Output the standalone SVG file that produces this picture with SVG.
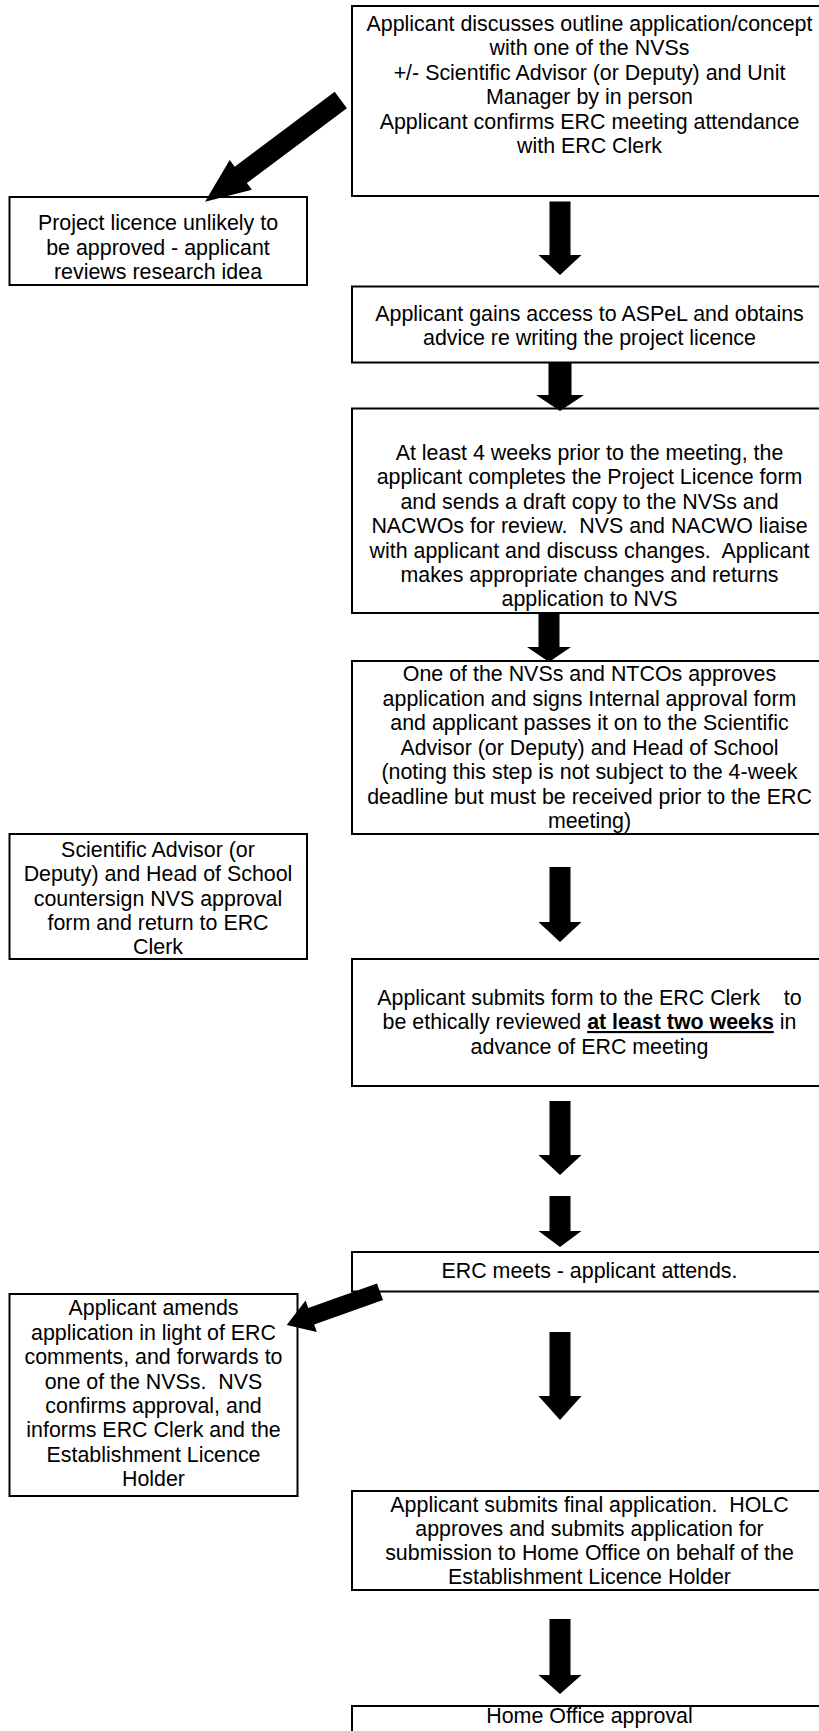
<svg xmlns="http://www.w3.org/2000/svg" width="819" height="1731" viewBox="0 0 819 1731">
<style>
.box{fill:#fff;stroke:#000;stroke-width:2}
.t{font-family:"Liberation Sans",Arial,sans-serif;font-size:21.4px;fill:#000;text-anchor:middle;white-space:pre}
.arr{fill:#000;stroke:none}
.b{font-weight:bold;text-decoration:underline}
</style>
<rect width="819" height="1731" fill="#fff"/>
<g id="n1">
<rect class="box" x="352" y="6" width="480" height="190"/>
<text class="t" xml:space="preserve"><tspan x="589.5" y="30.5">Applicant discusses outline application/concept</tspan><tspan x="589.5" y="55">with one of the NVSs</tspan><tspan x="589.5" y="79.5">+/- Scientific Advisor (or Deputy) and Unit</tspan><tspan x="589.5" y="104">Manager by in person</tspan><tspan x="589.5" y="128.5">Applicant confirms ERC meeting attendance</tspan><tspan x="589.5" y="153">with ERC Clerk</tspan></text>
</g>
<g id="n2">
<rect class="box" x="9.5" y="197" width="297.5" height="88"/>
<text class="t" xml:space="preserve"><tspan x="158" y="230">Project licence unlikely to</tspan><tspan x="158" y="254.5">be approved - applicant</tspan><tspan x="158" y="279">reviews research idea</tspan></text>
</g>
<g id="n3">
<rect class="box" x="352" y="286.5" width="480" height="76"/>
<text class="t" xml:space="preserve"><tspan x="589.5" y="320.5">Applicant gains access to ASPeL and obtains</tspan><tspan x="589.5" y="345">advice re writing the project licence</tspan></text>
</g>
<g id="n4">
<rect class="box" x="352" y="408.5" width="480" height="204.5"/>
<text class="t" xml:space="preserve"><tspan x="589.5" y="460">At least 4 weeks prior to the meeting, the</tspan><tspan x="589.5" y="484.4">applicant completes the Project Licence form</tspan><tspan x="589.5" y="508.8">and sends a draft copy to the NVSs and</tspan><tspan x="589.5" y="533.2">NACWOs for review.  NVS and NACWO liaise</tspan><tspan x="589.5" y="557.6">with applicant and discuss changes.  Applicant</tspan><tspan x="589.5" y="582">makes appropriate changes and returns</tspan><tspan x="589.5" y="606.4">application to NVS</tspan></text>
</g>
<g id="n5">
<rect class="box" x="352" y="661" width="480" height="173"/>
<text class="t" xml:space="preserve"><tspan x="589.5" y="681">One of the NVSs and NTCOs approves</tspan><tspan x="589.5" y="705.5">application and signs Internal approval form</tspan><tspan x="589.5" y="730">and applicant passes it on to the Scientific</tspan><tspan x="589.5" y="754.5">Advisor (or Deputy) and Head of School</tspan><tspan x="589.5" y="779">(noting this step is not subject to the 4-week</tspan><tspan x="589.5" y="803.5">deadline but must be received prior to the ERC</tspan><tspan x="589.5" y="828">meeting)</tspan></text>
</g>
<g id="n6">
<rect class="box" x="9.5" y="834" width="297.5" height="125"/>
<text class="t" xml:space="preserve"><tspan x="158" y="856.5">Scientific Advisor (or</tspan><tspan x="158" y="881">Deputy) and Head of School</tspan><tspan x="158" y="905.5">countersign NVS approval</tspan><tspan x="158" y="930">form and return to ERC</tspan><tspan x="158" y="954">Clerk</tspan></text>
</g>
<g id="n7">
<rect class="box" x="352" y="959" width="480" height="127"/>
<text class="t" xml:space="preserve"><tspan x="589.5" y="1004.5">Applicant submits form to the ERC Clerk    to</tspan><tspan x="589.5" y="1029">be ethically reviewed <tspan class="b">at least two weeks</tspan> in</tspan><tspan x="589.5" y="1053.5">advance of ERC meeting</tspan></text>
</g>
<g id="n8">
<rect class="box" x="352" y="1252" width="480" height="39.5"/>
<text class="t" xml:space="preserve"><tspan x="589.5" y="1278">ERC meets - applicant attends.</tspan></text>
</g>
<g id="n9">
<rect class="box" x="9.5" y="1294" width="288" height="202"/>
<text class="t" xml:space="preserve"><tspan x="153.5" y="1315">Applicant amends</tspan><tspan x="153.5" y="1339.5">application in light of ERC</tspan><tspan x="153.5" y="1364">comments, and forwards to</tspan><tspan x="153.5" y="1388.5">one of the NVSs.  NVS</tspan><tspan x="153.5" y="1413">confirms approval, and</tspan><tspan x="153.5" y="1437">informs ERC Clerk and the</tspan><tspan x="153.5" y="1461.5">Establishment Licence</tspan><tspan x="153.5" y="1486">Holder</tspan></text>
</g>
<g id="n10">
<rect class="box" x="352" y="1491" width="480" height="99"/>
<text class="t" xml:space="preserve"><tspan x="589.5" y="1512">Applicant submits final application.  HOLC</tspan><tspan x="589.5" y="1536">approves and submits application for</tspan><tspan x="589.5" y="1560">submission to Home Office on behalf of the</tspan><tspan x="589.5" y="1584">Establishment Licence Holder</tspan></text>
</g>
<g id="n11">
<rect class="box" x="352" y="1706" width="480" height="60"/>
<text class="t" xml:space="preserve"><tspan x="589.5" y="1723">Home Office approval</tspan></text>
</g>
<g id="connectors">
<polygon class="arr" points="334.7,91.8 234.7,166.7 229.7,160 205,201.7 251.9,189.8 246.9,183.1 346.9,108.2"/>
<polygon class="arr" points="549.5,201.5 570.5,201.5 570.5,255 581.5,255 560,275 538.5,255 549.5,255"/>
<polygon class="arr" points="548.5,362 571.5,362 571.5,395 584,395 560,411 536,395 548.5,395"/>
<polygon class="arr" points="538.5,613 559.5,613 559.5,647 571,647 549,662 527,647 538.5,647"/>
<polygon class="arr" points="549.5,867 570.5,867 570.5,922 581.5,922 560,942 538.5,922 549.5,922"/>
<polygon class="arr" points="549.5,1101 570.5,1101 570.5,1155 581.5,1155 560,1175 538.5,1155 549.5,1155"/>
<polygon class="arr" points="549.5,1196 570.5,1196 570.5,1231 581.5,1231 560,1247 538.5,1231 549.5,1231"/>
<polygon class="arr" points="377,1283.4 308.2,1308 305.6,1300.5 286.7,1325 316.8,1332.1 314.2,1324.6 383,1300"/>
<polygon class="arr" points="549.5,1332 570.5,1332 570.5,1396 581.5,1396 560,1420 538.5,1396 549.5,1396"/>
<polygon class="arr" points="549.5,1619 570.5,1619 570.5,1675 581.5,1675 560,1694 538.5,1675 549.5,1675"/>
</g>
</svg>
